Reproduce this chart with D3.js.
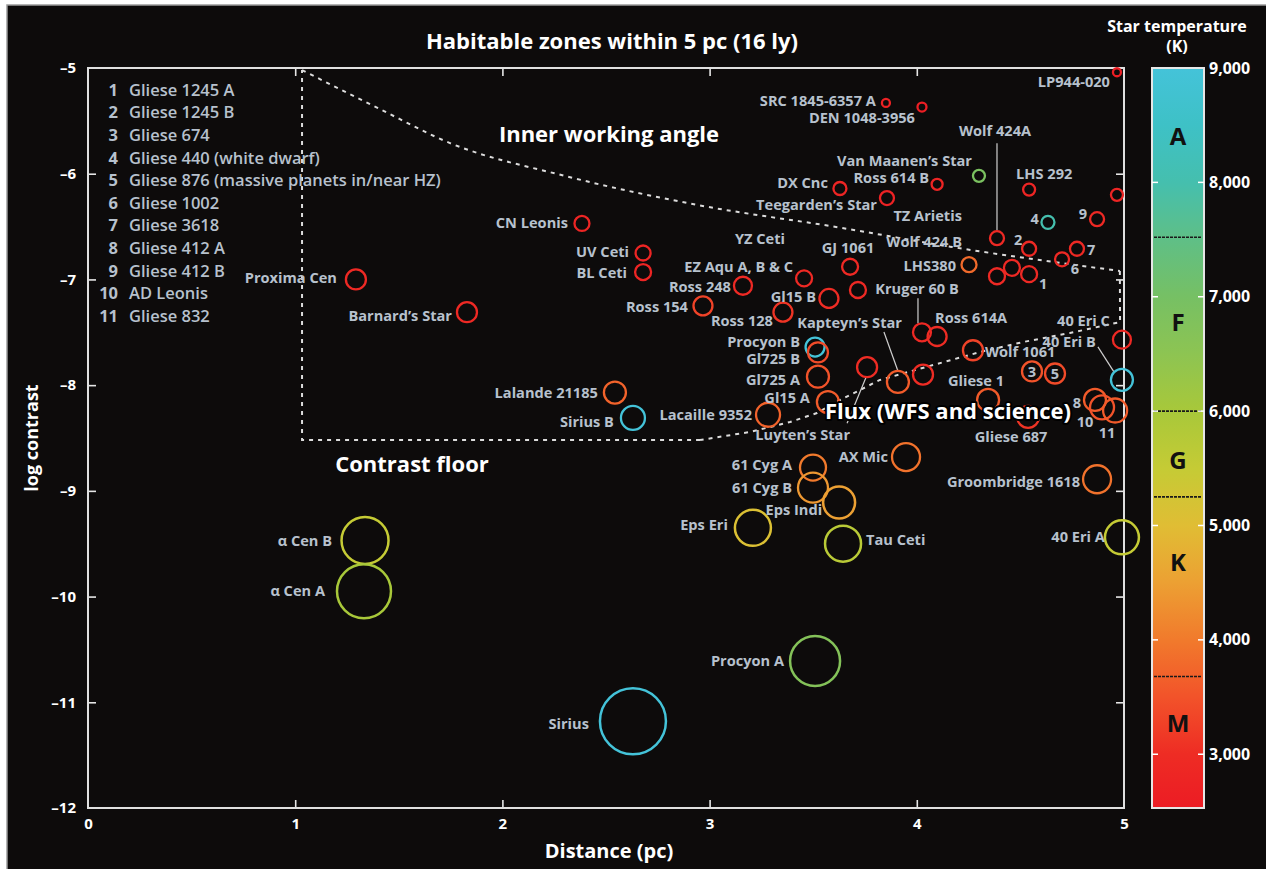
<!DOCTYPE html>
<html><head><meta charset="utf-8">
<script src="https://cdn.jsdelivr.net/npm/d3@7"></script>
<style>
html,body{margin:0;padding:0;background:#fff;}
svg{display:block;font-family:"Open Sans",Lato,sans-serif;}
</style></head><body>
<svg id="chart" width="1266" height="869"></svg>
<script>
// ---------------- DATA ----------------
const starNames = ["LP944-020","SRC 1845-6357 A","DEN 1048-3956","Van Maanen's Star","LHS 292","(unlabelled)","Ross 614 B","DX Cnc","Teegarden's Star","Gliese 440","Gliese 412 B","Wolf 424A","Gliese 1245 B","Gliese 3618","Gliese 1002","Gliese 1245 A","TZ Arietis","Wolf 424 B","LHS380","CN Leonis","UV Ceti","BL Ceti","YZ Ceti","GJ 1061","EZ Aqu A, B & C","Ross 248","Gl15 B","Ross 154","Ross 128","Kruger 60 B","Ross 614A","Kruger 60 A","Kapteyn's Star","Luyten's Star","Procyon B","Gl725 B","Gl725 A","Gl15 A","Lacaille 9352","Wolf 1061","Gliese 1","Gliese 674","Gliese 876","40 Eri C","40 Eri B","Gliese 412 A","AD Leonis","Gliese 832","Gliese 687","Proxima Cen","Barnard's Star","Lalande 21185","Sirius B","α Cen B","α Cen A","Sirius","Procyon A","61 Cyg A","61 Cyg B","Eps Indi","Eps Eri","Tau Ceti","AX Mic","Groombridge 1618","40 Eri A"];
const starLabels = ["LP944-020","SRC 1845-6357 A","DEN 1048-3956","Van Maanen’s Star","LHS 292","","Ross 614 B","DX Cnc","Teegarden’s Star","4","9","Wolf 424A","2","7","6","1","TZ Arietis","Wolf 424 B","LHS380","CN Leonis","UV Ceti","BL Ceti","YZ Ceti","GJ 1061","EZ Aqu A, B & C","Ross 248","Gl15 B","Ross 154","Ross 128","Kruger 60 B","Ross 614A","","Kapteyn’s Star","Luyten’s Star","Procyon B","Gl725 B","Gl725 A","Gl15 A","Lacaille 9352","Wolf 1061","Gliese 1","3","5","40 Eri C","40 Eri B","8","10","11","Gliese 687","Proxima Cen","Barnard’s Star","Lalande 21185","Sirius B","α Cen B","α Cen A","Sirius","Procyon A","61 Cyg A","61 Cyg B","Eps Indi","Eps Eri","Tau Ceti","AX Mic","Groombridge 1618","40 Eri A"];
const distancePc = [4.966,3.851,4.025,4.300,4.542,4.966,4.098,3.629,3.856,4.633,4.870,4.387,4.542,4.773,4.701,4.542,4.459,4.387,4.252,2.384,2.679,2.679,3.716,3.678,3.456,3.161,3.576,2.968,3.354,4.025,4.098,4.030,3.909,3.760,3.509,3.523,3.523,3.571,3.282,4.271,4.344,4.556,4.667,4.990,4.990,4.860,4.894,4.957,4.537,1.293,1.829,2.543,2.630,1.337,1.332,2.630,3.509,3.499,3.499,3.625,3.209,3.644,3.948,4.870,4.990];
const logContrast = [-5.04,-5.33,-5.37,-6.02,-6.15,-6.20,-6.10,-6.14,-6.23,-6.46,-6.43,-6.61,-6.71,-6.71,-6.81,-6.95,-6.89,-6.97,-6.86,-6.47,-6.75,-6.93,-7.10,-6.88,-6.99,-7.06,-7.18,-7.25,-7.31,-7.50,-7.54,-7.90,-7.97,-7.83,-7.64,-7.69,-7.92,-8.16,-8.28,-7.67,-8.14,-7.87,-7.89,-7.57,-7.95,-8.14,-8.21,-8.24,-8.30,-7.00,-7.31,-8.07,-8.31,-9.47,-9.95,-11.18,-10.61,-8.78,-8.97,-9.11,-9.35,-9.50,-8.68,-8.89,-9.44];
const temperatureK = [2600,2700,2600,6900,2800,2800,2800,2800,2700,8000,2900,2900,2900,2900,2900,2900,2900,2900,3800,2800,2800,2800,2900,2900,2900,2900,3000,3300,3100,2900,3000,3000,3600,3000,9900,3400,3500,3600,3700,3300,3600,3500,3400,2900,9900,3600,3500,3600,3100,2900,2900,3700,9900,5500,6000,9900,6700,4000,4400,4500,5100,5700,3900,3900,5500];
const hzExtent = [4,4,4.5,6,6,6,5.5,6.5,7,6.5,7,7,7,7,7,8,8,8,7.5,7.5,7.5,8,8,8,8,9,9.5,9.5,9.5,9,9.5,10,11,10,9.5,10,11,11,12,10,11,10,10,9,11,11,12,12,11,10,10,11,12,23.5,27,33,25,13,15,16,18,18,14,14,17];

const legendNumbers = ["1","2","3","4","5","6","7","8","9","10","11"];
const legendNames = ["Gliese 1245 A","Gliese 1245 B","Gliese 674","Gliese 440 (white dwarf)","Gliese 876 (massive planets in/near HZ)","Gliese 1002","Gliese 3618","Gliese 412 A","Gliese 412 B","AD Leonis","Gliese 832"];

const xTicks = [0,1,2,3,4,5];
const yTicks = [-5,-6,-7,-8,-9,-10,-11,-12];
const tempTicks = [3000,4000,5000,6000,7000,8000,9000];
const tempStopsK = [2530,3000,3500,4000,4500,5000,5500,6000,6500,7000,7500,8000,8500,9000];
const tempStopColors = ["#ec1c24","#ee2c24","#f2532a","#f17a2c","#eca033","#e0bd34","#c5cb35","#a8c83a","#8dc452","#76c064","#5fbf86","#45bfae","#3ec1c6","#44c3d9"];
const spectralClasses = ["A","F","G","K","M"];
const classCentersK = [8400,6780,5570,4680,3270];
const classBoundsK = [7520,6000,5250,3680];

// boundary curves (distance pc, log contrast)
const iwaCurve = [[1.033,-5.02],[1.40,-5.38],[1.747,-5.71],[2.30,-6.02],[2.954,-6.30],[3.63,-6.51],[4.16,-6.69],[4.98,-6.92]];
const fluxCurve = [[4.98,-6.92],[4.981,-7.403],[4.739,-7.507],[4.513,-7.592],[4.305,-7.687],[4.078,-7.810],[3.822,-7.951],[3.629,-8.141],[3.518,-8.264],[3.388,-8.349],[3.195,-8.443],[2.954,-8.519]];
const floorLine = [[2.954,-8.519],[1.033,-8.519],[1.033,-5.02]];

// ---------------- LAYOUT (label offsets in px) ----------------
const labelLayout = {
"LP944-020":[-7,10,"e"],"SRC 1845-6357 A":[-10,-2,"e"],"DEN 1048-3956":[-7,11,"e"],"Van Maanen's Star":[-7,-15,"e"],
"LHS 292":[-13,-16,"s"],"Ross 614 B":[-8,-6,"e"],"DX Cnc":[-12,-6,"e"],"Teegarden's Star":[-10,7,"e"],
"Gliese 440":[-9,-3,"e"],"Gliese 412 B":[-10,-5,"e"],"Wolf 424A":[-2,-107,"m"],"Gliese 1245 B":[-11,-9,"m"],
"Gliese 3618":[10,1,"s"],"Gliese 1002":[13,10,"m"],"Gliese 1245 A":[14,10,"m"],"TZ Arietis":[-50,-52,"e"],
"Wolf 424 B":[-35,-34,"e"],"LHS380":[-13,1,"e"],"CN Leonis":[-14,-1,"e"],"UV Ceti":[-14,-1,"e"],"BL Ceti":[-16,1,"e"],
"YZ Ceti":[-73,-51,"e"],"GJ 1061":[-2,-19,"m"],"EZ Aqu A, B & C":[-11,-11,"e"],"Ross 248":[-12,1,"e"],"Gl15 B":[-13,-2,"e"],
"Ross 154":[-15,1,"e"],"Ross 128":[-10,9,"e"],"Kruger 60 B":[-5,-43,"m"],"Ross 614A":[-2,-19,"s"],"Kapteyn's Star":[4,-59,"e"],
"Luyten's Star":[-17,68,"e"],"Procyon B":[-15,-5,"e"],"Gl725 B":[-18,7,"e"],"Gl725 A":[-18,3,"e"],"Gl15 A":[-18,-4,"e"],
"Lacaille 9352":[-16,0,"e"],"Wolf 1061":[12,2,"s"],"Gliese 1":[-12,-19,"m"],"Gliese 674":[0,0,"m"],"Gliese 876":[0,0,"m"],
"40 Eri C":[-12,-19,"e"],"40 Eri B":[-26,-38,"e"],"Gliese 412 A":[-18,3,"m"],"AD Leonis":[-17,15,"m"],"Gliese 832":[-8,22,"m"],
"Gliese 687":[-17,20,"m"],"Proxima Cen":[-19,-2,"e"],"Barnard's Star":[-15,4,"e"],"Lalande 21185":[-17,0,"e"],"Sirius B":[-19,4,"e"],
"α Cen B":[-33,0,"e"],"α Cen A":[-39,0,"e"],"Sirius":[-44,3,"e"],"Procyon A":[-31,0,"e"],"61 Cyg A":[-21,-3,"e"],"61 Cyg B":[-21,0,"e"],
"Eps Indi":[-17,7,"e"],"Eps Eri":[-25,-3,"e"],"Tau Ceti":[23,-4,"s"],"AX Mic":[-18,0,"e"],"Groombridge 1618":[-17,3,"e"],"40 Eri A":[-17,0,"e"]
};
const leaderLayout = {
"Wolf 424A":[[0,-95],[0,-8]],"Kruger 60 B":[[-4,-34],[-4,-9]],"Kapteyn's Star":[[-14,-50],[0,-11]],
"Luyten's Star":[[-20,56],[-1,10]],"40 Eri B":[[-24,-33],[-8,-8]]
};

// ---------------- DRAW ----------------
const svg = d3.select("#chart");
svg.append("rect").attr("x",7).attr("y",5).attr("width",1262).attr("height",868)
  .attr("fill","#0d0b0b").attr("stroke","#9a9a9a").attr("stroke-width",1.5);

const x = d3.scaleLinear().domain([0,5]).range([88,1124]);
const y = d3.scaleLinear().domain([-5,-12]).range([68,808]);
const tempColor = d3.scaleLinear().domain(tempStopsK).range(tempStopColors).clamp(true);
const rScale = d3.scaleLinear().domain([0,33]).range([0,33]);

const labelFill = "#b7c1cd";
const FONT = "'Open Sans',Lato,sans-serif";

// title
svg.append("text").attr("x",612).attr("y",49).attr("text-anchor","middle")
  .attr("fill","#fff").attr("font-weight",700).attr("font-size",22)
  .text("Habitable zones within 5 pc (16 ly)");

// axes
const gx = svg.append("g").attr("transform","translate(0,808)")
  .call(d3.axisBottom(x).tickValues(xTicks).tickFormat(d3.format("d")).tickSizeInner(-8).tickSizeOuter(0).tickPadding(10));
const gxt = svg.append("g").attr("transform","translate(0,68)")
  .call(d3.axisTop(x).tickValues(xTicks.slice(1,-1)).tickFormat("").tickSizeInner(-8).tickSizeOuter(0));
const gy = svg.append("g").attr("transform","translate(88,0)")
  .call(d3.axisLeft(y).tickValues(yTicks).tickFormat(d=>"–"+Math.abs(d)).tickSizeInner(-8).tickSizeOuter(0).tickPadding(12));
const gyr = svg.append("g").attr("transform","translate(1124,0)")
  .call(d3.axisRight(y).tickValues(yTicks.slice(1,-1)).tickFormat("").tickSizeInner(-8).tickSizeOuter(0));
[gx,gxt,gy,gyr].forEach(g=>{
  g.select(".domain").remove();
  g.selectAll(".tick line").attr("stroke","#e6e6e6").attr("stroke-width",1.6);
  g.selectAll(".tick text").attr("fill","#fff").attr("font-weight",700).attr("font-size",15).attr("font-family",FONT);
});
gx.selectAll(".tick line").filter(d=>d===0||d===5).remove();
gy.selectAll(".tick line").filter(d=>d===-5||d===-12).remove();

svg.append("rect").attr("x",88).attr("y",68).attr("width",1036).attr("height",740)
  .attr("fill","none").attr("stroke","#e0e0e0").attr("stroke-width",2);

svg.append("text").attr("x",609).attr("y",858).attr("text-anchor","middle")
  .attr("fill","#fff").attr("font-weight",700).attr("font-size",20).text("Distance (pc)");
svg.append("text").attr("transform","translate(38,438) rotate(-90)").attr("text-anchor","middle")
  .attr("fill","#fff").attr("font-weight",700).attr("font-size",18).text("log contrast");

// boundary lines
const line = d3.line().x(d=>x(d[0])).y(d=>y(d[1]));
const curved = d3.line().x(d=>x(d[0])).y(d=>y(d[1])).curve(d3.curveMonotoneX);
const dashStyle = s=>s.attr("fill","none").attr("stroke","#dcdcdc").attr("stroke-width",2).attr("stroke-dasharray","4,5");
svg.append("path").attr("d",curved(iwaCurve)).call(dashStyle);
svg.append("path").attr("d",line(fluxCurve)).call(dashStyle);
svg.append("path").attr("d",line(floorLine)).call(dashStyle);

// legend list
const lg = svg.append("g");
legendNumbers.forEach((n,i)=>{
  const yy = 90 + i*22.6;
  lg.append("text").attr("x",118).attr("y",yy).attr("dy","0.35em").attr("text-anchor","end")
    .attr("fill",labelFill).attr("font-weight",700).attr("font-size",16.5).text(n);
  lg.append("text").attr("x",129).attr("y",yy).attr("dy","0.35em")
    .attr("fill",labelFill).attr("font-weight",600).attr("font-size",16.5).text(legendNames[i]);
});

// stars
const stars = starNames.map((n,i)=>({name:n,label:starLabels[i],d:distancePc[i],c:logContrast[i],t:temperatureK[i],hz:hzExtent[i]}));
const gl = svg.append("g");
stars.forEach(s=>{
  const L = leaderLayout[s.name];
  if (L) gl.append("line").attr("x1",x(s.d)+L[0][0]).attr("y1",y(s.c)+L[0][1]).attr("x2",x(s.d)+L[1][0]).attr("y2",y(s.c)+L[1][1])
    .attr("stroke","#cfcfcf").attr("stroke-width",1.2);
});
svg.append("g").selectAll("circle").data(stars).join("circle")
  .attr("cx",d=>x(d.d)).attr("cy",d=>y(d.c)).attr("r",d=>rScale(d.hz))
  .attr("fill","none").attr("stroke",d=>tempColor(d.t)).attr("stroke-width",d=>d.hz>15?2.5:2.3);
const anchorMap = {e:"end",s:"start",m:"middle"};
svg.append("g").selectAll("text").data(stars.filter(s=>s.label && labelLayout[s.name])).join("text")
  .attr("x",d=>x(d.d)+labelLayout[d.name][0]).attr("y",d=>y(d.c)+labelLayout[d.name][1]).attr("dy","0.35em")
  .attr("text-anchor",d=>anchorMap[labelLayout[d.name][2]])
  .attr("fill",labelFill).attr("font-weight",700).attr("font-size",14.6).text(d=>d.label);

// region labels
const region = (t,xx,yy,halo)=>{
  const el = svg.append("text").attr("x",xx).attr("y",yy).attr("dy","0.35em").attr("text-anchor","middle")
   .attr("fill","#fff").attr("font-weight",700).attr("font-size",22).text(t);
  if (halo) el.attr("stroke","#000").attr("stroke-width",4).attr("paint-order","stroke").attr("stroke-linejoin","round");
};
region("Inner working angle",609,134,false);
region("Contrast floor",412,464,false);
region("Flux (WFS and science)",948,411,true);

// colour bar
const ty = d3.scaleLinear().domain([2530,9000]).range([808,68]);
const defs = svg.append("defs");
const grad = defs.append("linearGradient").attr("id","tgrad").attr("x1",0).attr("y1",1).attr("x2",0).attr("y2",0);
tempStopsK.forEach((t,i)=>grad.append("stop").attr("offset",(t-2530)/(9000-2530)).attr("stop-color",tempStopColors[i]));
const cbX = 1152, cbW = 52;
svg.append("rect").attr("x",cbX).attr("y",68).attr("width",cbW).attr("height",740)
  .attr("fill","url(#tgrad)").attr("stroke","#e6e6e6").attr("stroke-width",2);
classBoundsK.forEach(t=>svg.append("line").attr("x1",cbX+2).attr("x2",cbX+cbW-2).attr("y1",ty(t)).attr("y2",ty(t))
  .attr("stroke","#1a1a1a").attr("stroke-width",1.6).attr("stroke-dasharray","3,1"));
tempTicks.filter(t=>t<9000).forEach(t=>{
  svg.append("line").attr("x1",cbX).attr("x2",cbX+6).attr("y1",ty(t)).attr("y2",ty(t)).attr("stroke","#fff").attr("stroke-width",1.5);
  svg.append("line").attr("x1",cbX+cbW-6).attr("x2",cbX+cbW).attr("y1",ty(t)).attr("y2",ty(t)).attr("stroke","#fff").attr("stroke-width",1.5);
});
const fmt = d3.format(",");
tempTicks.forEach(t=>svg.append("text").attr("x",1209).attr("y",ty(t)).attr("dy","0.35em")
  .attr("fill","#fff").attr("font-weight",700).attr("font-size",16).text(fmt(t)));
spectralClasses.forEach((c,i)=>svg.append("text").attr("x",cbX+cbW/2).attr("y",ty(classCentersK[i])).attr("dy","0.36em")
  .attr("text-anchor","middle").attr("fill","#111").attr("font-weight",700).attr("font-size",24).text(c));
svg.append("text").attr("x",1177).attr("y",32).attr("text-anchor","middle").attr("fill","#fff")
  .attr("font-weight",700).attr("font-size",16).text("Star temperature");
svg.append("text").attr("x",1177).attr("y",52).attr("text-anchor","middle").attr("fill","#fff")
  .attr("font-weight",700).attr("font-size",16).text("(K)");
</script>
</body></html>
